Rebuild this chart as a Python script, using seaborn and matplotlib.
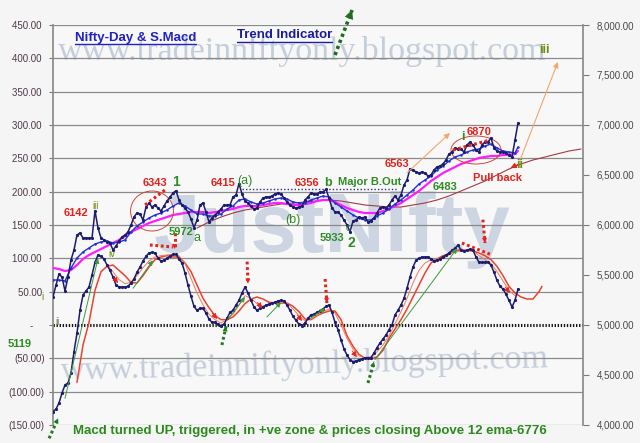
import numpy as np
import pandas as pd
import matplotlib
matplotlib.use("Agg")
import matplotlib.pyplot as plt
import seaborn as sns
from matplotlib.patches import Ellipse
from matplotlib.lines import Line2D
from matplotlib.ticker import FuncFormatter

sns.set_theme(style="white")
plt.rcParams['font.family'] = ['Liberation Sans', 'DejaVu Sans']

# ---- data (trading days on x, MACD left axis, Nifty right axis) ----
nifty_close = [
    5280, 5400, 5510, 5480, 5340, 5480, 5650, 5750, 5900, 5920,
    5870, 5870, 5870, 5870, 6142, 5970, 5870, 5850, 5830, 5820,
    5750, 5790, 5840, 5880, 5900, 5930, 6000, 6080, 6120, 6110,
    6050, 6180, 6220, 6180, 6200, 6170, 6140, 6190, 6240, 6280,
    6320, 6343, 6250, 6200, 6170, 6130, 6060, 5972, 6050, 6200,
    6220, 6130, 6030, 6070, 6100, 6130, 6160, 6200, 6200, 6200,
    6280, 6300, 6415, 6310, 6240, 6220, 6190, 6160, 6170, 6230,
    6270, 6280, 6280, 6290, 6310, 6320, 6310, 6270, 6230, 6200,
    6180, 6170, 6180, 6190, 6250, 6280, 6320, 6310, 6310, 6330,
    6330, 6356, 6270, 6170, 6130, 6130, 6100, 6050, 6000, 5933,
    6040, 6050, 6080, 6070, 6080, 6030, 6040, 6070, 6120, 6170,
    6180, 6170, 6200, 6250, 6290, 6250, 6300, 6400, 6450, 6563,
    6550, 6530, 6520, 6530, 6520, 6490, 6500, 6550, 6580, 6590,
    6610, 6650, 6710, 6730, 6770, 6760, 6760, 6730, 6800, 6830,
    6800, 6750, 6730, 6800, 6830, 6830, 6870, 6770, 6740, 6730,
    6730, 6720, 6700, 6680, 6850, 7020,
]
macd = [
    -130, -126, -117, -102, -90, -87, -72, -40, -12, 22,
    45, 51, 57, 75, 94, 105, 103, 99, 90, 82,
    72, 60, 57, 57, 57, 58, 63, 69, 79, 87,
    96, 103, 108, 109, 108, 100, 96, 97, 100, 103,
    106, 106, 99, 93, 78, 60, 43, 28, 22, 25,
    25, 18, 9, 4, 4, 1, -1, 1, 10, 19,
    22, 30, 37, 48, 57, 48, 37, 27, 22, 25,
    27, 30, 31, 33, 34, 36, 37, 36, 30, 22,
    13, 7, 1, -1, 3, 10, 15, 16, 19, 21,
    24, 28, 30, 19, 4, -7, -22, -36, -45, -52,
    -55, -54, -52, -51, -49, -49, -49, -42, -34, -27,
    -21, -15, -7, 0, 15, 22, 30, 40, 55, 72,
    87, 97, 100, 102, 102, 102, 99, 96, 97, 99,
    102, 105, 108, 112, 115, 120, 112, 111, 112, 114,
    112, 102, 94, 94, 94, 94, 90, 79, 67, 58,
    54, 46, 37, 27, 37, 54,
]
ema_fast = [
    5450, 5450, 5440, 5570, 5670, 5730, 5770, 5810, 5830, 5840,
    5820, 5830, 5850, 5930, 5990, 6030, 6070, 6100, 6120, 6150,
    6190, 6220, 6190, 6150, 6110, 6110, 6090, 6090, 6110, 6160,
    6190, 6250, 6260, 6230, 6210, 6220, 6240, 6260, 6270, 6260,
    6230, 6220, 6220, 6250, 6270, 6290, 6280, 6220, 6180, 6140,
    6100, 6070, 6050, 6050, 6090, 6120, 6160, 6210, 6250, 6300,
    6350, 6410, 6450, 6490, 6550, 6590, 6640, 6680, 6700, 6730,
    6750, 6760, 6790, 6810, 6770, 6740, 6730, 6720, 6780,
]
ema_mid = [
    5570, 5560, 5540, 5550, 5600, 5660, 5700, 5730, 5760, 5790,
    5820, 5850, 5890, 5930, 5960, 5990, 6020, 6040, 6060, 6080,
    6100, 6110, 6120, 6130, 6130, 6130, 6120, 6130, 6140, 6150,
    6160, 6180, 6190, 6190, 6190, 6200, 6210, 6220, 6220, 6210,
    6200, 6200, 6210, 6220, 6240, 6250, 6250, 6230, 6200, 6170,
    6150, 6130, 6120, 6120, 6120, 6140, 6160, 6190, 6220, 6260,
    6300, 6340, 6390, 6440, 6480, 6520, 6550, 6580, 6610, 6630,
    6650, 6670, 6680, 6690, 6690, 6700, 6700, 6710, 6740,
]
ema_slow = [
    5970, 6030, 6080, 6120, 6150, 6170, 6190, 6210, 6220, 6230,
    6240, 6250, 6240, 6220, 6200, 6190, 6180, 6180, 6200, 6220,
    6250, 6290, 6340, 6390, 6440, 6500, 6560, 6610, 6650, 6680,
    6710, 6740, 6760,
]
signal = [
    -86, -30, 4, 52, 80, 88, 90, 82, 74, 64,
    63, 74, 87, 98, 102, 104, 102, 102, 93, 80,
    60, 40, 26, 14, 8, 8, 12, 21, 32, 39,
    42, 39, 34, 33, 33, 33, 28, 20, 9, 8,
    14, 18, 21, 21, 8, -16, -32, -44, -50, -51,
    -48, -38, -20, -6, 8, 24, 42, 60, 78, 93,
    99, 104, 106, 111, 112, 112, 111, 108, 104, 98,
    88, 74, 58, 48, 42, 39, 39, 50, 58,
]
trigger = [
    90, 80, 68, 62, 64, 74, 86, 96, 102, 104,
    105, 106, 104, 92, 70, 48, 30, 16, 8, 3,
    8, 16, 30, 44, 40, 32, 28, 30, 33, 34,
    33, 24, 14, 6, 9, 15, 20, 24, 18, 0,
    -20, -36, -46, -50, -48, -40, -30, -16, 2, 20,
    40, 63, 82, 93, 98, 99, 100, 105, 112, 114,
    112, 111, 104, 98, 92, 80, 66, 52, 44,
]

days = np.arange(len(nifty_close))
fast_days = np.append(np.arange(0, 156, 2), 155)
slow_days = np.arange(48, 177, 4)
signal_days = np.append(np.arange(8, 163, 2), 163)
trigger_days = np.arange(18, 156, 2)

NAVY = '#1c1c6e'
BLUE = '#2530d8'
MAGENTA = '#ff1cff'
BROWN = '#a23b45'
RED = '#e5231b'
SIGRED = '#e8442e'
GREEN = '#2f8c24'
OLIVE = '#6b8e10'

fig = plt.figure(figsize=(6.4, 4.43), dpi=100, facecolor='#f5f5f5')
ax = fig.add_axes([53 / 640, 1 - 425 / 443, 530 / 640, 400 / 443])
ax.set_facecolor('#f8f8f8')
ax2 = ax.twinx()

ax.set_xlim(0, 530 / 3)
ax.set_ylim(-150, 450)
ax2.set_ylim(4000, 8000)

# watermarks
ax.text(302 / 640, 1 - 60 / 443, 'www.tradeinniftyonly.blogspot.com', transform=fig.transFigure,
        family=['Liberation Serif', 'DejaVu Serif'], fontsize=24.5, color='#a9b6cb', alpha=0.65,
        ha='center', va='baseline', zorder=0.3)
ax.text(305 / 640, 1 - 380 / 443, 'www.tradeinniftyonly.blogspot.com', transform=fig.transFigure,
        family=['Liberation Serif', 'DejaVu Serif'], fontsize=24.5, color='#a9b6cb', alpha=0.65,
        ha='center', va='baseline', rotation=1.5, zorder=0.3)
ax.text(332 / 640, 1 - 252 / 443, 'JustNifty', transform=fig.transFigure, fontsize=60,
        fontweight='bold', color='#b2bfd4', alpha=0.6, ha='center', va='baseline', zorder=0.3)

# grid / axes styling
ax.set_yticks(np.arange(-150, 451, 50))
ax2.set_yticks(np.arange(4000, 8001, 500))
ax.set_xticks([])
ax.grid(axis='y', color='#8a8a8a', linewidth=0.9)
for gl, tv in zip(ax.get_ygridlines(), ax.get_yticks()):
    if abs(tv) < 1e-9:
        gl.set_visible(False)
ax.axhline(0, color='#151515', linewidth=2.2, linestyle=(0, (0.45, 0.55)), zorder=1)


def acct(v, pos):
    if abs(v) < 1e-9:
        return '-    '
    if v < 0:
        return f'({-v:,.2f})'
    return f'{v:,.2f} '


ax.yaxis.set_major_formatter(FuncFormatter(acct))
ax2.yaxis.set_major_formatter(FuncFormatter(lambda v, p: f'{v:,.2f}'))
ax.tick_params(axis='y', length=3, width=0.8, color='#7a7a7a', labelsize=7,
               labelcolor='#4f3848', pad=3, left=True)
ax2.tick_params(axis='y', length=4, width=0.8, color='#7a7a7a', labelsize=7,
                labelcolor='#4a4a4a', pad=6, right=True)
for s in ['top', 'bottom', 'right']:
    ax.spines[s].set_visible(False)
for s in ['top', 'bottom', 'left']:
    ax2.spines[s].set_visible(False)
ax.spines['left'].set_color('#8a8a8a')
ax2.spines['right'].set_color('#8a8a8a')

# MACD pane (left axis)
sns.lineplot(x=signal_days, y=signal, ax=ax, color=SIGRED, linewidth=1.1, zorder=3)
sns.lineplot(x=trigger_days, y=trigger, ax=ax, color='#f07a5a', linewidth=0.7, zorder=3)
sns.lineplot(x=days, y=macd, ax=ax, color=NAVY, linewidth=1.1, marker='o', markersize=2.3,
             markeredgewidth=0, zorder=4)

# price pane (right axis)
sns.lineplot(x=slow_days, y=ema_slow, ax=ax2, color=BROWN, linewidth=0.8, zorder=2)
sns.lineplot(x=fast_days, y=ema_mid, ax=ax2, color=MAGENTA, linewidth=1.6, zorder=3)
sns.lineplot(x=fast_days, y=ema_fast, ax=ax2, color=BLUE, linewidth=1.0, marker='o', markersize=1.8,
             markeredgewidth=0, zorder=4)
sns.lineplot(x=days, y=nifty_close, ax=ax2, color=NAVY, linewidth=1.1, marker='o', markersize=2.3,
             markeredgewidth=0, zorder=5)
ax.set_xlim(0, 530 / 3)
ax.set_ylim(-150, 450)
ax2.set_ylim(4000, 8000)
ax.set_ylabel('')
ax2.set_ylabel('')


def dotted_arrow(a, x0, y0, x1, y1, color, lw=2.2, head=9, clip=True):
    a.plot([x0, x1], [y0, y1], color=color, linewidth=lw, linestyle=(0, (0.9, 0.9)),
           solid_capstyle='butt', clip_on=clip, zorder=6)
    if head:
        a.annotate('', xy=(x1, y1), xytext=(x0 + (x1 - x0) * 0.6, y0 + (y1 - y0) * 0.6),
                   arrowprops=dict(arrowstyle='-|>', color=color, lw=0, mutation_scale=head,
                                   shrinkA=0, shrinkB=0), annotation_clip=False, zorder=6)


def thin_arrow(a, x0, y0, x1, y1, color, lw=0.7, head=7):
    a.annotate('', xy=(x1, y1), xytext=(x0, y0),
               arrowprops=dict(arrowstyle='-|>', color=color, lw=lw, mutation_scale=head,
                               shrinkA=0, shrinkB=0), annotation_clip=False, zorder=6)


# green trend lines in MACD pane
for x0, y0, x1, y1 in [(4, -110, 15, 100), (26.7, 55, 33.3, 97), (58, 7, 64, 42),
                       (71.3, 12, 76, 34), (85.7, 10, 90.7, 25), (107.3, -52, 134.7, 115)]:
    thin_arrow(ax, x0, y0, x1, y1, '#3d9a3d')
# small red crossover arrows
for x1, y1 in [(21.7, 63), (54.7, 9), (69.7, 25), (83, 6), (101.3, -48), (152.3, 48)]:
    thin_arrow(ax, x1 - 1.6, y1 + 9, x1, y1, RED, lw=0.6, head=8)

# dotted arrows
dotted_arrow(ax, 32.3, 120, 40.0, 117, RED, head=0)
dotted_arrow(ax, 40.5, 138, 40.5, 114, RED)
dotted_arrow(ax, 64.7, 95, 65.0, 62, RED)
dotted_arrow(ax, 90.7, 69, 91.3, 33, RED)
dotted_arrow(ax, 143.3, 158, 144.0, 123, RED)
dotted_arrow(ax, 136.3, 123, 146.3, 105, RED, head=0)
dotted_arrow(ax, -1.3, -170, 1.7, -140, '#1f7a1f', clip=False)
dotted_arrow(ax, 56.3, -30, 57.7, -2, '#1f7a1f')
dotted_arrow(ax, 105, -87, 107, -55, '#1f7a1f')
dotted_arrow(ax2, 94, 7700, 99.7, 8150, '#1f6b1f', lw=2.6, head=16, clip=False)
dotted_arrow(ax2, 30.7, 6200, 37.3, 6350, RED, head=0)
dotted_arrow(ax2, 133.3, 6750, 145.7, 6850, RED, head=0)
ax2.plot([63, 115], [6365, 6365], color='#2a2a8a', linewidth=1.0, linestyle=(0, (1, 1.5)), zorder=2)

thin_arrow(ax2, 118, 6520, 132.3, 6920, '#f2a66a', lw=0.8, head=8)
thin_arrow(ax2, 155.7, 6650, 168.3, 7630, '#f2a66a', lw=0.8, head=8)
thin_arrow(ax2, 155.3, 6610, 152.5, 6570, RED, lw=0.8, head=8)

ax2.add_patch(Ellipse((33, 6140), 14.3, 400, fill=False, edgecolor='#d0463c', linewidth=0.7, zorder=3))
ax2.add_patch(Ellipse((141, 6750), 16.7, 280, fill=False, edgecolor='#d0463c', linewidth=0.7, zorder=3))


# wave labels on price pane
def lab(a, s, x, y, color, size=8, weight='bold', **kw):
    a.text(x, y, s, color=color, fontsize=size, fontweight=weight, ha='center', va='center',
           zorder=7, **kw)


lab(ax2, '6142', 7.7, 6120, RED)
lab(ax2, 'iii', 14.3, 6190, OLIVE, size=7, weight='normal')
lab(ax2, '6343', 34, 6420, RED)
lab(ax2, '1', 41, 6430, GREEN, size=10)
lab(ax2, '6415', 56.7, 6420, RED)
lab(ax2, '(a)', 64, 6440, GREEN, size=9, weight='normal')
lab(ax2, '6356', 84.7, 6420, RED)
lab(ax2, 'b', 91.7, 6420, GREEN, size=9)
lab(ax2, 'Major B.Out', 105.7, 6430, GREEN)
lab(ax2, '(b)', 80, 6050, GREEN, size=9, weight='normal')
lab(ax2, '5933', 93, 5870, GREEN)
lab(ax2, 'c', 98.3, 5970, GREEN, size=7, weight='normal')
lab(ax2, '2', 99.3, 5820, GREEN, size=10)
lab(ax2, '5972', 42.7, 5930, GREEN)
lab(ax2, 'a', 48, 5870, GREEN, size=9, weight='normal')
lab(ax2, '6563', 114.7, 6610, RED)
lab(ax2, '6483', 130.7, 6380, GREEN)
lab(ax2, '6870', 142, 6930, RED)
lab(ax2, 'i', 136.7, 6880, GREEN, size=9)
lab(ax2, 'Pull back', 148.3, 6470, RED)
lab(ax2, 'ii', 155.5, 6600, OLIVE, size=9)
lab(ax2, 'iii', 163.7, 7750, OLIVE, size=9)
lab(ax2, 'iv', 19.7, 5710, OLIVE, size=7, weight='normal')
lab(ax, 'ii', 1.5, 5, '#7a7a50', size=7, weight='normal')

fig.text(42 / 640, 1 - 297 / 443, 'i', color=OLIVE, fontsize=7, ha='center', va='center')
fig.text(20 / 640, 1 - 344 / 443, '5119', color=GREEN, fontsize=8, fontweight='bold',
         ha='center', va='center')
fig.text(73 / 640, 1 - 431 / 443,
         'Macd turned UP, triggered, in +ve zone & prices closing Above 12 ema-6776',
         color='#2c8a1c', fontsize=9.5, fontweight='bold', ha='left', va='center')

t1 = fig.text(75 / 640, 1 - 37.5 / 443, 'Nifty-Day & S.Macd', color='#2222c4', fontsize=9.5,
              fontweight='bold', ha='left', va='center')
t2 = fig.text(237 / 640, 1 - 35.5 / 443, 'Trend Indicator', color='#1b1ba0', fontsize=9.5,
              fontweight='bold', ha='left', va='center')

fig.canvas.draw()
for t in (t1, t2):
    bb = t.get_window_extent()
    yy = (bb.y0 - 0.5) / fig.bbox.height
    fig.add_artist(Line2D([bb.x0 / fig.bbox.width, bb.x1 / fig.bbox.width], [yy, yy],
                          color=t.get_color(), linewidth=1.0))

fig.savefig('out.png', dpi=100, facecolor=fig.get_facecolor())
